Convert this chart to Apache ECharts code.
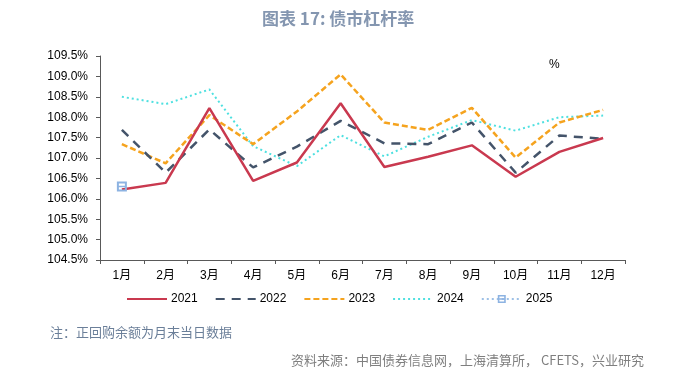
<!DOCTYPE html>
<html><head><meta charset="utf-8">
<script src="https://cdn.jsdelivr.net/npm/echarts@6/dist/echarts.min.js"></script>
<style>html,body{margin:0;padding:0;background:#fff}#c{width:697px;height:377px}</style>
</head><body><div id="c"></div>
<script>
const months = ['1月','2月','3月','4月','5月','6月','7月','8月','9月','10月','11月','12月'];
const s2021 = [106.23,106.39,108.22,106.44,106.89,108.34,106.78,107.03,107.31,106.54,107.15,107.49];
const s2022 = [107.69,106.64,107.70,106.77,107.28,107.91,107.36,107.34,107.87,106.64,107.55,107.47];
const s2023 = [107.34,106.87,108.05,107.34,108.14,109.05,107.87,107.69,108.23,107.01,107.87,108.18];
const s2024 = [108.50,108.32,108.68,107.29,106.80,107.56,107.04,107.52,107.93,107.67,108.00,108.04];
const s2025 = [106.30];
const yTicks = {min:104.5, max:109.5, interval:0.5};

const font = '"Liberation Sans", Arial, "Noto Sans CJK SC", sans-serif';
const cjk = '"Noto Sans CJK SC", sans-serif';
const chart = echarts.init(document.getElementById('c'), null, {renderer:'canvas'});
const markerPath = 'path://M0,0H10V10H0Z M2,2V8H8V2Z M2,4.2H8V5.8H2Z';
const hideSym = {opacity:0};
chart.setOption({
  animation:false,
  textStyle:{fontFamily:font},
  title:{text:'图表 17: 债市杠杆率', left:257, top:5,
    textStyle:{fontSize:17, fontWeight:'bold', color:'#8496b0', fontFamily:cjk}},
  grid:{left:100, right:72, top:56, bottom:117},
  legend:{left:121, top:288, itemWidth:40, itemHeight:10, itemGap:17,
    textStyle:{fontSize:12, color:'#000', fontFamily:font, padding:[0,0,0,-1]},
    data:[
      {name:'2021', itemStyle:hideSym},
      {name:'2022', itemStyle:hideSym},
      {name:'2023', itemStyle:hideSym},
      {name:'2024', itemStyle:hideSym},
      {name:'2025'}
    ]},
  xAxis:{type:'category', data:months, boundaryGap:true,
    axisLine:{lineStyle:{color:'#595959', width:1}},
    axisTick:{show:true, length:4, lineStyle:{color:'#595959'}},
    axisLabel:{color:'#000', fontSize:12, margin:10, fontFamily:font}},
  yAxis:{type:'value', min:yTicks.min, max:yTicks.max, interval:yTicks.interval,
    axisLine:{show:true, lineStyle:{color:'#595959'}},
    axisTick:{show:true, length:4, lineStyle:{color:'#595959'}},
    splitLine:{show:false},
    axisLabel:{color:'#000', fontSize:12, margin:12, fontFamily:font,
      formatter:v=>v.toFixed(1)+'%'}},
  series:[
    {name:'2021', type:'line', data:s2021, symbol:'none', z:5,
      lineStyle:{color:'#c9394f', width:2.5}, itemStyle:{color:'#c9394f'}},
    {name:'2022', type:'line', data:s2022, symbol:'none', z:4,
      lineStyle:{color:'#44546a', width:2.5, type:[9,7]}, itemStyle:{color:'#44546a'}},
    {name:'2023', type:'line', data:s2023, symbol:'none', z:3,
      lineStyle:{color:'#f5a31e', width:2.5, type:[6,3]}, itemStyle:{color:'#f5a31e'}},
    {name:'2024', type:'line', data:s2024, symbol:'none', z:2,
      lineStyle:{color:'#4ee0e0', width:2, type:[2,3]}, itemStyle:{color:'#4ee0e0'}},
    {name:'2025', type:'line', data:s2025, symbol:markerPath, symbolSize:10, z:6,
      lineStyle:{color:'#9dc0e6', width:2, type:[2,3]}, itemStyle:{color:'#8db3e2'}}
  ],
  graphic:[
    {type:'text', left:549, top:59, style:{text:'%', fontSize:12, fill:'#000', fontFamily:font}},
    {type:'text', left:50, top:326, style:{text:'注：正回购余额为月末当日数据', fontSize:13, fill:'#6b7f99', fontFamily:cjk}},
    {type:'text', right:53, top:354, style:{text:'资料来源：中国债券信息网，上海清算所， CFETS，兴业研究', fontSize:13, fill:'#7f7f7f', fontFamily:cjk}}
  ]
});
</script></body></html>
